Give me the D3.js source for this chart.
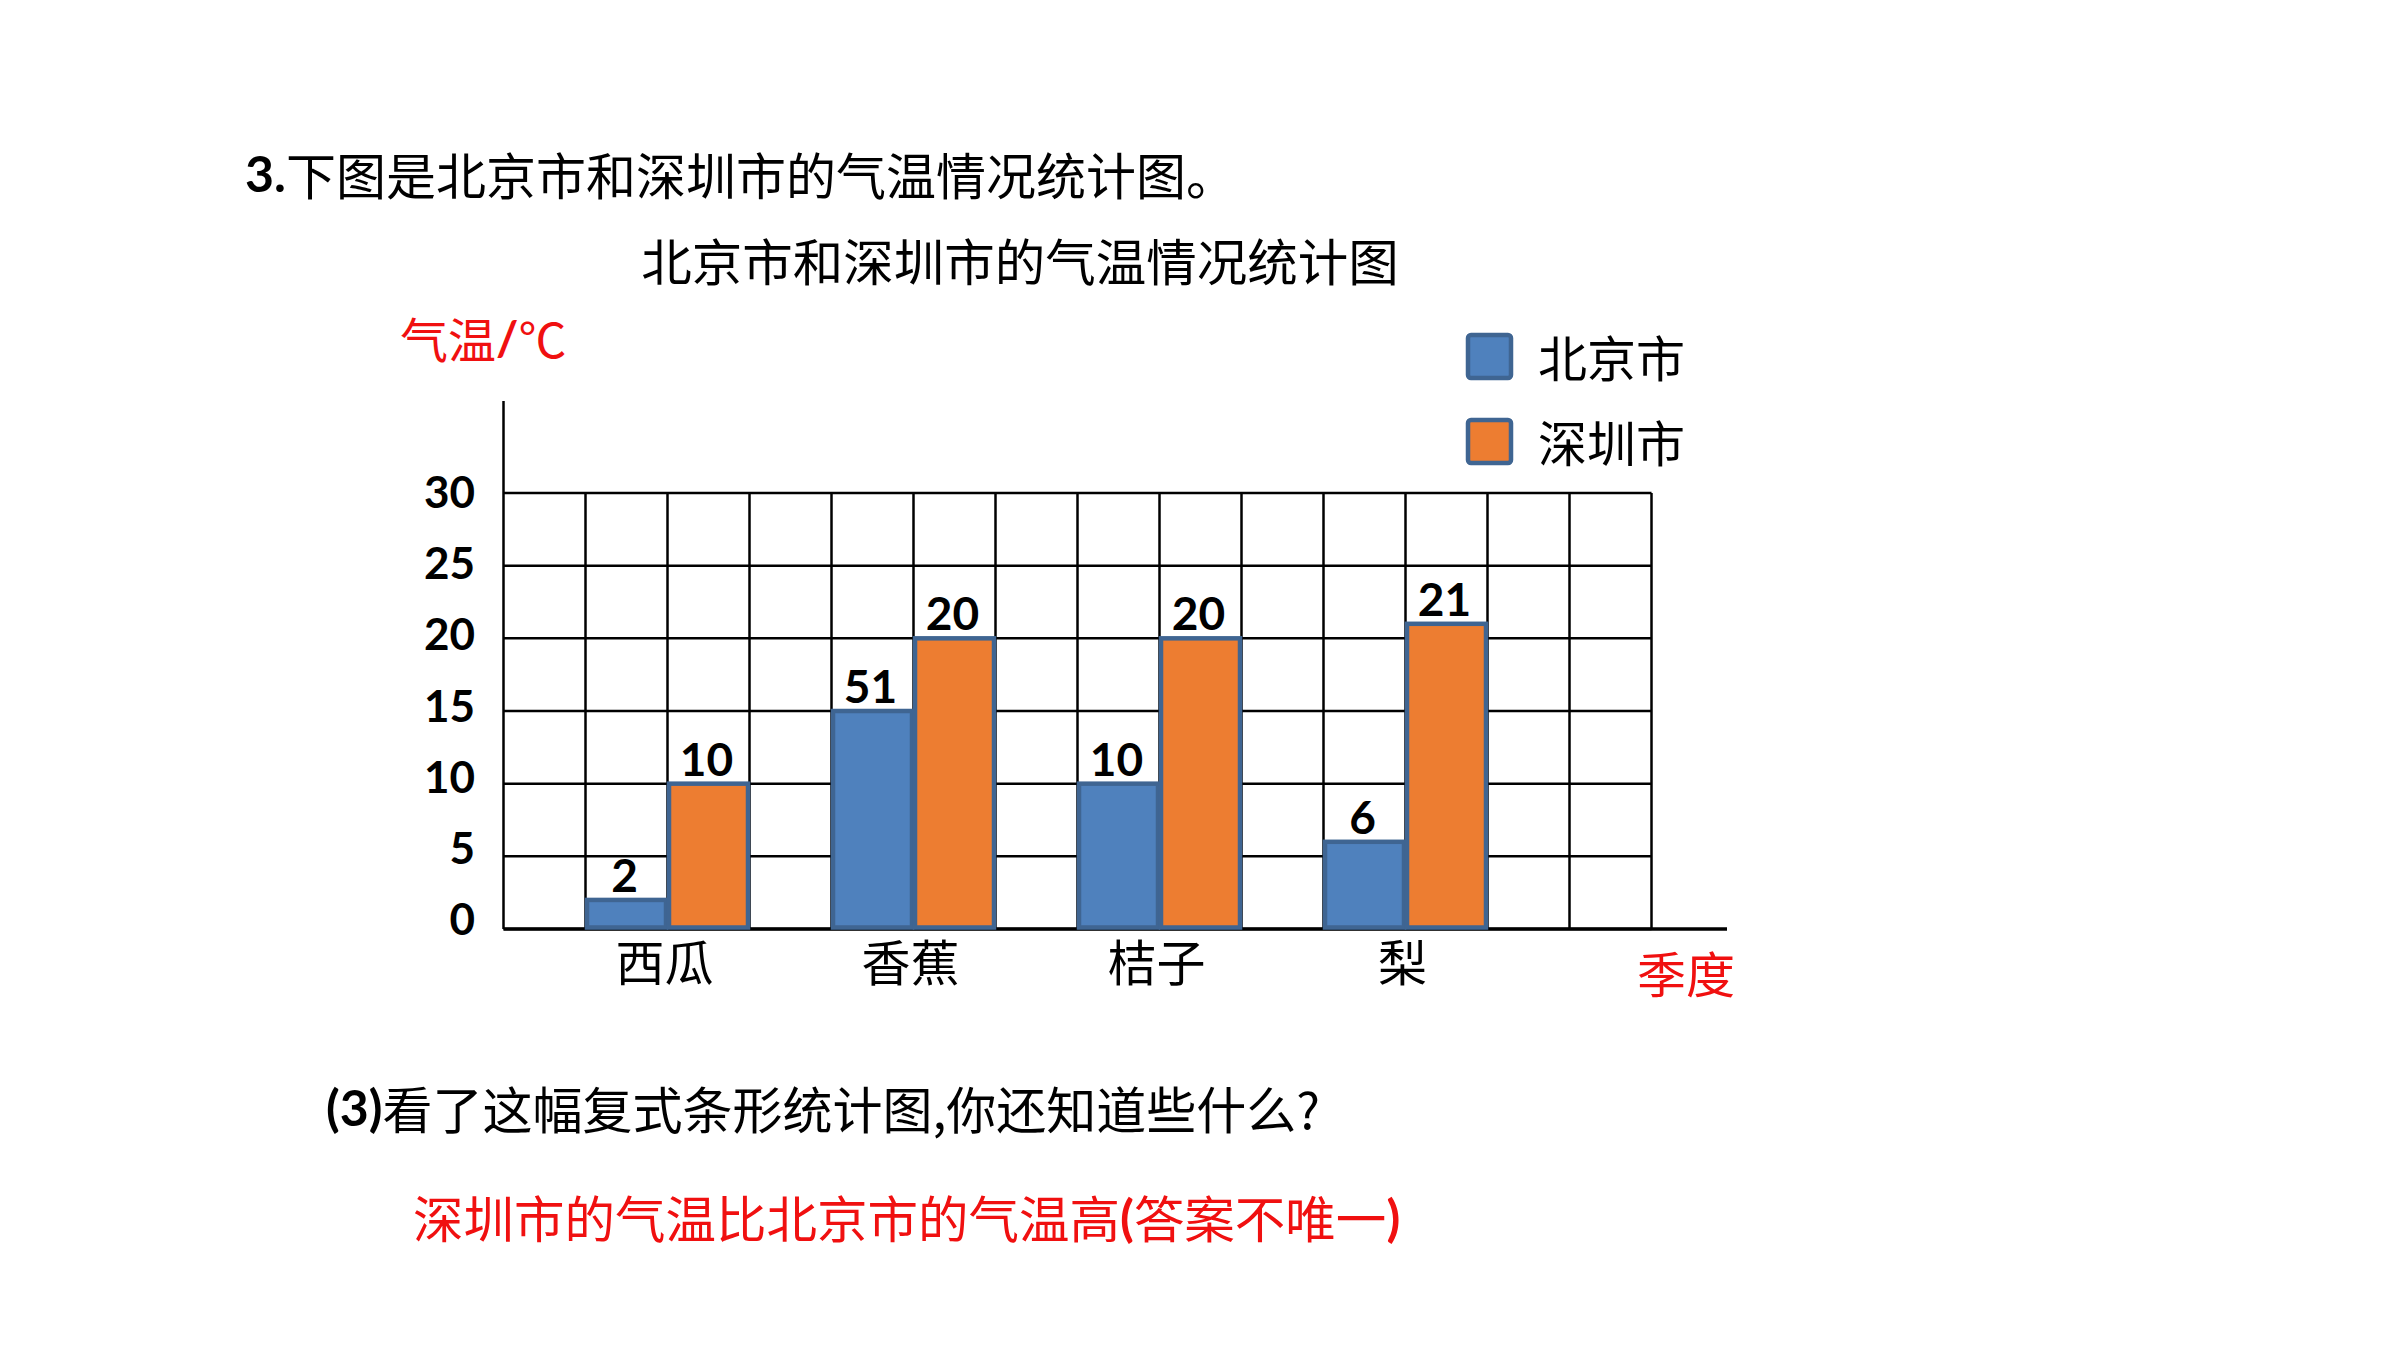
<!DOCTYPE html>
<html><head><meta charset="utf-8">
<script src="https://cdn.jsdelivr.net/npm/d3@7/dist/d3.min.js"></script>
<style>
html,body{margin:0;padding:0;background:#fff;}
svg{display:block;}
</style></head>
<body>
<script>
// ---- data ----
const categories = ["西瓜", "香蕉", "桔子", "梨"];
const seriesNames = ["北京市", "深圳市"];
const beijingValues = [2, 15, 10, 6];
const shenzhenValues = [10, 20, 20, 21];
const beijingLabels = ["2", "51", "10", "6"];
const shenzhenLabels = ["10", "20", "20", "21"];
const yTicks = [0, 5, 10, 15, 20, 25, 30];
const heading = "下图是北京市和深圳市的气温情况统计图。";
const chartTitle = "北京市和深圳市的气温情况统计图";
const yAxisTitle = "气温";
const xAxisTitle = "季度";
const question = "看了这幅复式条形统计图,你还知道些什么?";
const answer = "深圳市的气温比北京市的气温高";
const answerNote = "答案不唯一";

const W = 2400, H = 1350;
const CJK = "'Noto Sans CJK SC', 'Noto Sans', sans-serif";
const NUM = "Lato, 'Liberation Sans', sans-serif";
const RED = "#F01010";
const colors = {"北京市": "#4F81BD", "深圳市": "#ED7D31"};
const strokeCol = "#3F6592";

const svg = d3.select("body").append("svg").attr("width", W).attr("height", H);

// scales
const x0 = 503.5, nCols = 14, colW = 82;
const col = d3.scaleLinear().domain([0, nCols]).range([x0, x0 + nCols * colW]);
const y = d3.scaleLinear().domain([0, 30]).range([929, 493]);
const xBand = d3.scaleBand().domain(categories).range([col(1), col(12)]).paddingInner(1/3).paddingOuter(0);
const xSub = d3.scaleBand().domain(seriesNames).range([0, xBand.bandwidth()]).padding(0);

// heading
const h1 = svg.append("text").attr("x", 245).attr("y", 173).attr("dominant-baseline", "central")
  .attr("font-size", 50).attr("fill", "#000");
h1.append("tspan").attr("font-family", NUM).attr("font-weight", "bold").text("3.");
h1.append("tspan").attr("font-family", CJK).text(heading);

// chart title
svg.append("text").attr("x", 1020).attr("y", 259).attr("text-anchor", "middle").attr("dominant-baseline", "central")
  .attr("font-family", CJK).attr("font-size", 50.5).attr("fill", "#000").text(chartTitle);

// y axis title
const yt = svg.append("text").attr("x", 400).attr("y", 337).attr("dominant-baseline", "central")
  .attr("font-size", 48).attr("fill", RED);
yt.append("tspan").attr("font-family", CJK).text(yAxisTitle);
yt.append("tspan").attr("font-family", NUM).attr("font-weight", "bold").text("/");
yt.append("tspan").attr("font-family", CJK).text("℃");

// grid
const g = svg.append("g");
g.selectAll("line.h").data(yTicks).join("line").attr("class", "h")
  .attr("x1", col(0)).attr("x2", col(nCols)).attr("y1", d => y(d)).attr("y2", d => y(d))
  .attr("stroke", "#000").attr("stroke-width", 2.5);
g.selectAll("line.v").data(d3.range(1, nCols + 1)).join("line").attr("class", "v")
  .attr("x1", d => col(d)).attr("x2", d => col(d)).attr("y1", y(30)).attr("y2", y(0))
  .attr("stroke", "#000").attr("stroke-width", 2.5);

// axes lines
g.append("line").attr("x1", col(0)).attr("x2", col(0)).attr("y1", 401).attr("y2", y(0))
  .attr("stroke", "#000").attr("stroke-width", 2.5);
g.append("line").attr("x1", col(0)).attr("x2", 1727).attr("y1", y(0)).attr("y2", y(0))
  .attr("stroke", "#000").attr("stroke-width", 3.5);

// y tick labels
svg.selectAll("text.ytick").data(yTicks).join("text").attr("class", "ytick")
  .attr("x", 475).attr("y", d => y(d) - 2 - (30 - d) * 0.3)
  .attr("text-anchor", "end").attr("dominant-baseline", "central")
  .attr("font-family", NUM).attr("font-weight", "bold").attr("font-size", 44).attr("fill", "#000")
  .text(d => d);

// bars
const rows = categories.map((c, i) => ({
  cat: c,
  vals: [
    {s: seriesNames[0], v: beijingValues[i], label: beijingLabels[i]},
    {s: seriesNames[1], v: shenzhenValues[i], label: shenzhenLabels[i]}
  ]
}));
const groups = svg.selectAll("g.grp").data(rows).join("g").attr("class", "grp")
  .attr("transform", d => `translate(${xBand(d.cat)},0)`);
groups.selectAll("rect").data(d => d.vals).join("rect")
  .attr("x", d => xSub(d.s) + 1.5).attr("width", xSub.bandwidth() - 3)
  .attr("y", d => y(d.v)).attr("height", d => y(0) - y(d.v) - 1.5)
  .attr("fill", d => colors[d.s]).attr("stroke", strokeCol).attr("stroke-width", 4.5);
groups.selectAll("text").data(d => d.vals).join("text")
  .attr("x", d => xSub(d.s) + xSub.bandwidth() / 2 - 2).attr("y", d => y(d.v) - 8)
  .attr("text-anchor", "middle")
  .attr("font-family", NUM).attr("font-weight", "bold").attr("font-size", 46).attr("fill", "#000")
  .text(d => d.label);

// category labels
svg.selectAll("text.cat").data(categories).join("text").attr("class", "cat")
  .attr("x", d => xBand(d) + xBand.bandwidth() / 2 - 3).attr("y", 959)
  .attr("text-anchor", "middle").attr("dominant-baseline", "central")
  .attr("font-family", CJK).attr("font-size", 49).attr("fill", "#000").text(d => d);

// x axis title
svg.append("text").attr("x", 1637).attr("y", 971).attr("dominant-baseline", "central")
  .attr("font-family", CJK).attr("font-size", 49).attr("fill", RED).text(xAxisTitle);

// legend
const lg = svg.selectAll("g.lg").data(seriesNames).join("g").attr("class", "lg")
  .attr("transform", (d, i) => `translate(1468,${335 + i * 85})`);
lg.append("rect").attr("width", 43).attr("height", 43).attr("rx", 3)
  .attr("fill", d => colors[d]).attr("stroke", strokeCol).attr("stroke-width", 4.5);
lg.append("text").attr("x", 70).attr("y", 20).attr("dominant-baseline", "central")
  .attr("font-family", CJK).attr("font-size", 49).attr("fill", "#000").text(d => d);

// question
const q = svg.append("text").attr("x", 326).attr("y", 1107).attr("dominant-baseline", "central")
  .attr("font-size", 50).attr("fill", "#000");
q.append("tspan").attr("font-family", NUM).attr("font-weight", "bold").text("(3)");
q.append("tspan").attr("font-family", CJK).text(question);

// answer
const a = svg.append("text").attr("x", 413).attr("y", 1216).attr("dominant-baseline", "central")
  .attr("font-size", 50.5).attr("fill", RED);
a.append("tspan").attr("font-family", CJK).text(answer);
a.append("tspan").attr("font-family", NUM).attr("font-weight", "bold").text("(");
a.append("tspan").attr("font-family", CJK).text(answerNote);
a.append("tspan").attr("font-family", NUM).attr("font-weight", "bold").text(")");
</script>
</body></html>
